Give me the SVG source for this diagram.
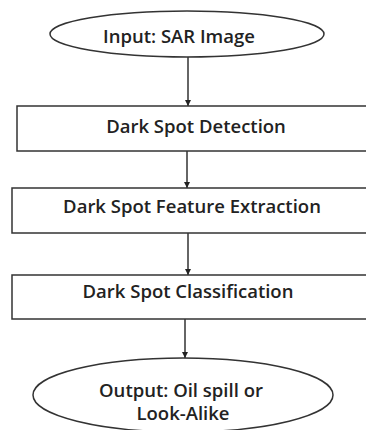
<svg xmlns="http://www.w3.org/2000/svg" width="366" height="430" viewBox="0 0 366 430">
<defs>
<marker id="ah" viewBox="0 0 10 10" refX="10" refY="5" markerWidth="6" markerHeight="6" orient="auto" markerUnits="userSpaceOnUse">
<path d="M0,0 L10,5 L0,10 Z" fill="#222"/>
</marker>
<style>
.shape{fill:#fff;stroke:#333;stroke-width:1.5}
.lbl{font-family:"Open Sans","Liberation Sans",sans-serif;font-size:18.5px;fill:#222;text-anchor:middle;dominant-baseline:central;font-weight:600}
.conn{stroke:#333;stroke-width:1.5;fill:none;marker-end:url(#ah)}
</style>
</defs>
<rect width="366" height="430" fill="#fff"/>
<g id="connectors">
<line class="conn" x1="188" y1="57" x2="188" y2="106"/>
<line class="conn" x1="187" y1="151" x2="187" y2="188"/>
<line class="conn" x1="188" y1="233" x2="188" y2="275"/>
<line class="conn" x1="185" y1="319" x2="185" y2="358"/>
</g>
<g id="input">
<ellipse class="shape" cx="187" cy="34" rx="137" ry="23"/>
<text class="lbl" x="179" y="35">Input: SAR Image</text>
</g>
<g id="detection">
<rect class="shape" x="17" y="106" width="400" height="45"/>
<text class="lbl" x="196" y="125">Dark Spot Detection</text>
</g>
<g id="feature">
<rect class="shape" x="12" y="188" width="400" height="45"/>
<text class="lbl" x="192" y="205">Dark Spot Feature Extraction</text>
</g>
<g id="classification">
<rect class="shape" x="12" y="275" width="400" height="44"/>
<text class="lbl" x="188" y="290">Dark Spot Classification</text>
</g>
<g id="output">
<ellipse class="shape" cx="183" cy="395" rx="150" ry="37"/>
<text class="lbl" x="181" y="389">Output: Oil spill or</text>
<text class="lbl" x="183" y="412">Look-Alike</text>
</g>
</svg>
